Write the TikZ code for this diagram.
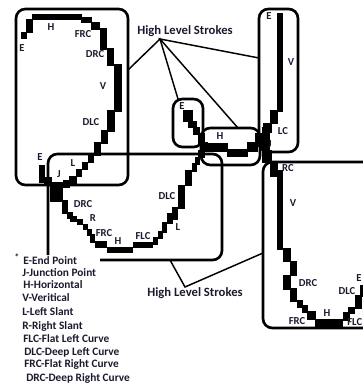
\documentclass[tikz,border=0pt]{standalone}
\usepackage{fontspec}
\setmainfont{Carlito}
\usepackage{xcolor}
\definecolor{strokeink}{HTML}{000000}
\definecolor{labelink}{HTML}{1A1A2E}
\usetikzlibrary{fit, positioning}

\begin{document}
\begin{tikzpicture}[x=0.75pt, y=-0.75pt,
  strokebox/.style={rectangle, rounded corners=7pt, draw=black, line width=2pt, inner sep=0pt},
  callout/.style={draw=black, line width=1.1pt},
  pix/.style={fill=strokeink},
  lbl/.style={font=\fontsize{8}{9}\selectfont\bfseries, text=labelink, inner sep=0pt},
  legendline/.style={font=\fontsize{8.5}{10}\selectfont\bfseries, text=labelink,
    anchor=base west, inner sep=0pt},
  hltitle/.style={font=\fontsize{9.5}{11}\selectfont\bfseries, text=labelink, inner sep=1pt}
]
\useasboundingbox (0,0) rectangle (363,385);

% boxes round the high level strokes
\node[strokebox, fit={(16,9) (128,185)}] (lbox) {};
\node[strokebox, fit={(173,99) (203,147)}] (ebox) {};
\node[strokebox, fit={(201,128) (260,165)}] (hbox) {};
\node[strokebox, fit={(259,9) (298,152)}] (vbox) {};
\node[strokebox, fit={(263,162) (385,328)}] (rbox) {};
\draw[line width=2pt, rounded corners=7pt] (48,255) -- (48,154) -- (222,154) -- (222,260) -- (100,260);

% stroke pixels
\foreach \xa/\ya/\xb/\yb in {21/32/27/39, 26/19/33/33, 32/14/82/20, 81/17/92/23, 91/22/100/30,
    100/28/107/50, 107/48/114/66, 114/64/122/112, 107/110/115/132, 101/130/108/144,
    94/142/101/156, 88/155/94/163, 82/162/88/170, 76/169/82/177, 69/176/77/185,
    63/180/70/188, 39/165/45/183, 44/177/52/184, 50/182/63/202}
  \fill[pix] (\xa,\ya) rectangle (\xb,\yb);
\foreach \xa/\ya/\xb/\yb in {62/200/68/214, 67/212/73/219, 70/216/77/222, 77/219/83/225,
    83/224/88/230, 87/229/92/236, 90/234/95/243, 95/241/107/248, 107/247/133/253,
    133/242/153/248, 153/237/158/245, 158/231/163/239, 162/222/167/233, 167/213/173/224,
    172/207/178/220, 178/185/185/209, 185/170/192/186, 192/163/197/172, 195/157/200/165,
    198/150/205/158, 200/142/208/151}
  \fill[pix] (\xa,\ya) rectangle (\xb,\yb);
\foreach \xa/\ya/\xb/\yb in {183/110/193/122, 188/121/197/128, 193/127/200/135, 198/133/205/145,
    203/143/228/152, 227/149/248/157, 247/142/258/152, 255/133/263/147,
    262/127/270/163, 263/123/272/133, 270/110/278/124, 277/13/283/112}
  \fill[pix] (\xa,\ya) rectangle (\xb,\yb);
\foreach \xa/\ya/\xb/\yb in {265/150/272/163, 270/163/278/177, 277/170/283/250, 283/248/291/262,
    290/261/297/276, 283/275/291/290, 290/288/297/302, 297/300/303/308, 302/305/308/313,
    307/311/316/320, 315/319/343/327, 343/312/350/321, 348/307/355/314, 355/295/362/309,
    360/285/366/297}
  \fill[pix] (\xa,\ya) rectangle (\xb,\yb);

% stroke labels
\foreach \nm/\px/\py/\tx in {le1/22/48/E, lh1/51/27/H, lfrc/83/34/FRC, ldrc/95/54/DRC,
    lv1/103/86/V, ldlc/91/122/DLC, le2/40/157/E, ll1/73/163/L, lj1/59/174/J,
    mdrc/83/204/DRC, mr/93/218/R, mfrc/104/233/FRC, mh/118/241/H, mflc/143/236/FLC,
    mdlc/167/196/DLC, ml/178/227/L, se/182/106/E, sh/220/136/H,
    ve/269/16/E, vv/291/62/V, vlc/283/131/LC, vj/270/144/J,
    rrc/288/168/RC, rv/293/203/V, rdrc/308/283/DRC, rdlc/347/291/DLC, re/359/278/E,
    rh/327/313/H, rfrc/297/321/FRC}
  \node[lbl] (\nm) at (\px,\py) {\tx};
\node[lbl, anchor=west] (rflc) at (347,322) {FLC};

% high level stroke callouts
\node[hltitle] (hltop) at (185,31) {High Level Strokes};
\coordinate (tapex) at (160,39);
\coordinate (tl) at (128,70);
\coordinate (te) at (178,99);
\coordinate (th) at (238,128);
\coordinate (tv) at (259,58);
\draw[callout] (tl) -- (tapex) -- (te);
\draw[callout] (th) -- (tapex) -- (tv);

\node[hltitle] (hlbot) at (195,293) {High Level Strokes};
\coordinate (bapex) at (185,287);
\coordinate (bm) at (170,260);
\coordinate (br) at (263,253);
\draw[callout] (bm) -- (bapex) -- (br);

% legend
\node[font=\fontsize{7}{8}\selectfont\bfseries, text=labelink, inner sep=0pt] (ast) at (17,257) {*};
\foreach \nm/\px/\py/\tx in {lg1/23/264/E-End Point, lg2/22/276/J-Junction Point,
    lg3/23/288/H-Horizontal, lg4/22/301/V-Veritical, lg5/22/315/L-Left Slant,
    lg6/22/329/R-Right Slant, lg7/23/342/FLC-Flat Left Curve, lg8/24/355/DLC-Deep Left Curve,
    lg9/24/367/FRC-Flat Right Curve, lg10/26/381/DRC-Deep Right Curve}
  \node[legendline] (\nm) at (\px,\py) {\tx};
\end{tikzpicture}
\end{document}
